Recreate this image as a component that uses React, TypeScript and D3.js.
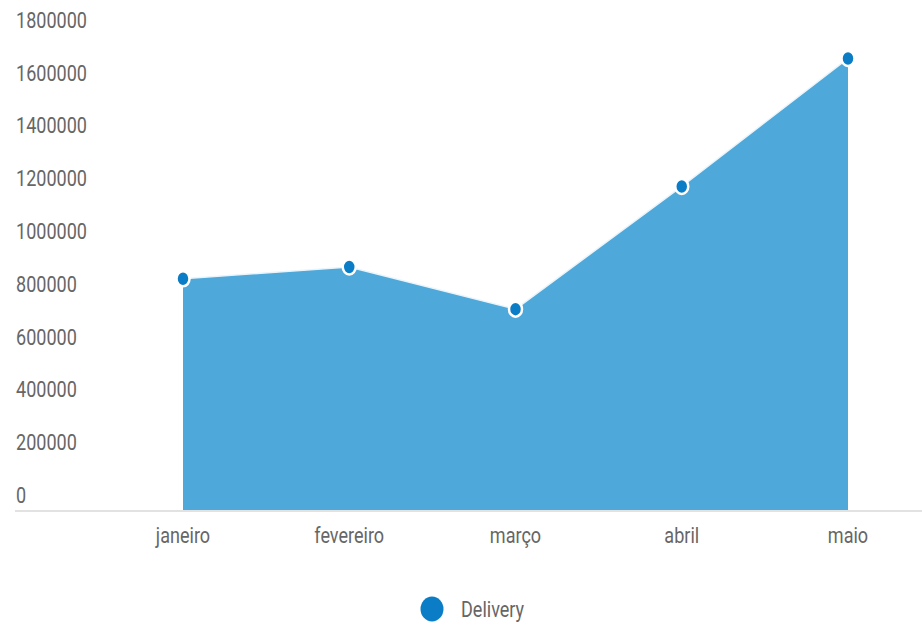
import React from "react";
import * as d3 from "d3";

const categories = ["janeiro", "fevereiro", "março", "abril", "maio"];
const deliveryValues = [880000, 925000, 765000, 1230000, 1715000];
const yTicks = [0, 200000, 400000, 600000, 800000, 1000000, 1200000, 1400000, 1600000, 1800000];
const seriesName = "Delivery";

const W = 922;
const H = 625;
const FONT = "Roboto, 'Noto Sans', sans-serif";
const FS = 22;
const SX = 0.82;
const TEXT_COLOR = "#666";

export default function App() {
  const y = d3.scaleLinear().domain([0, 1800000]).range([511, 36]);
  const x = d3.scalePoint<string>().domain(categories).range([183, 848]);

  const data = categories.map((c, i) => ({ c, v: deliveryValues[i] }));
  const area = d3
    .area<{ c: string; v: number }>()
    .x((d) => x(d.c) as number)
    .y0(y(0))
    .y1((d) => y(d.v));
  const line = d3
    .line<{ c: string; v: number }>()
    .x((d) => x(d.c) as number)
    .y((d) => y(d.v));

  return (
    <svg
      width={W}
      height={H}
      style={{ position: "absolute", left: 0, top: 0, background: "#fff" }}
    >
      <path d={area(data) || ""} fill="#4EA8DA" />
      <path d={line(data) || ""} fill="none" stroke="#EAF5FB" strokeWidth={1.5} />
      <line x1={15} x2={922} y1={y(0)} y2={y(0)} stroke="#E2E2E2" strokeWidth={2} />
      {yTicks.map((t) => (
        <g key={t} transform={`translate(16,${y(t) - 16}) scale(${SX},1)`}>
          <text
            x={0}
            y={0}
            dy="0.36em"
            fontFamily={FONT}
            fontSize={FS}
            fill={TEXT_COLOR}
          >
            {t}
          </text>
        </g>
      ))}
      {categories.map((c) => (
        <g key={c} transform={`translate(${x(c)},543) scale(${SX},1)`}>
          <text
            x={0}
            y={0}
            textAnchor="middle"
            fontFamily={FONT}
            fontSize={FS}
            fill={TEXT_COLOR}
          >
            {c}
          </text>
        </g>
      ))}
      {data.map((d) => (
        <ellipse
          key={d.c}
          cx={x(d.c) as number}
          cy={y(d.v)}
          rx={6.5}
          ry={7.5}
          fill="#0B7DC6"
          stroke="#fff"
          strokeWidth={2.5}
        />
      ))}
      <ellipse cx={432} cy={609} rx={11.5} ry={12.5} fill="#0B7DC6" />
      <g transform={`translate(461,609) scale(${SX},1)`}>
        <text
          x={0}
          y={0}
          dy="0.36em"
          fontFamily={FONT}
          fontSize={FS}
          fill={TEXT_COLOR}
        >
          {seriesName}
        </text>
      </g>
    </svg>
  );
}
